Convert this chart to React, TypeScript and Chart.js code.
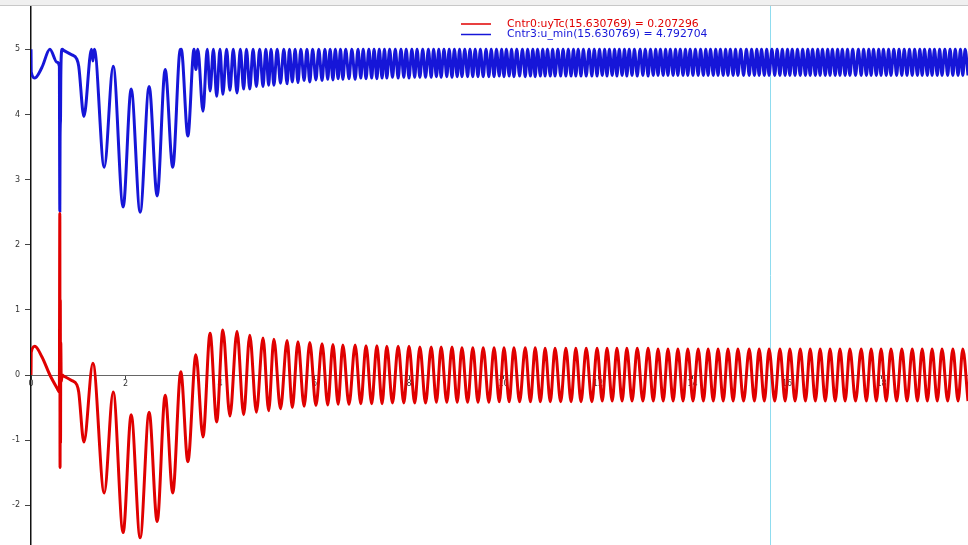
import { useEffect, useRef } from "react";
import { Chart, registerables } from "chart.js";

Chart.register(...registerables);

// ---- data ----
const redLabel = "Cntr0:uyTc(15.630769) = 0.207296";
const blueLabel = "Cntr3:u_min(15.630769) = 4.792704";
const cursorX = 15.630769;

const xTicks = [0, 2, 4, 6, 8, 10, 12, 14, 16, 18];
const yTicks = [-2, -1, 0, 1, 2, 3, 4, 5];
const xMin = 0;
const xMax = 19.83;
const yMin = -2.61;
const yMax = 5.65;

// times of the red signal's points (start-up transient, then extrema)
const redT = [
  0, 0.005, 0.08, 0.23, 0.4, 0.55, 0.6, 0.61, 0.615, 0.62, 0.625, 0.63, 0.64, 0.66, 0.7, 0.85,
  0.97, 1.01, 1.12, 1.31, 1.55, 1.74, 1.95, 2.12, 2.31, 2.5, 2.67, 2.84, 3.0, 3.17, 3.32,
  3.49, 3.64, 3.79, 3.93, 4.06, 4.21, 4.36, 4.5, 4.63, 4.77,
  4.91, 5.03, 5.14, 5.28, 5.42, 5.53, 5.65, 5.78, 5.9, 6.03,
  6.16, 6.28, 6.39, 6.5, 6.6, 6.73, 6.86, 6.98, 7.09, 7.21,
  7.32, 7.43, 7.53, 7.65, 7.77, 7.89, 8.0, 8.12, 8.23, 8.35,
  8.47, 8.58, 8.68, 8.8, 8.91, 9.02, 9.12, 9.24, 9.35, 9.46,
  9.57, 9.69, 9.8, 9.91, 10.01, 10.12, 10.22, 10.34, 10.46, 10.57,
  10.67, 10.78, 10.88, 10.99, 11.09, 11.21, 11.32, 11.43, 11.53, 11.64,
  11.75, 11.87, 11.98, 12.09, 12.19, 12.3, 12.4, 12.51, 12.61, 12.72,
  12.83, 12.95, 13.06, 13.17, 13.27, 13.38, 13.48, 13.59, 13.69, 13.8,
  13.9, 14.01, 14.12, 14.23, 14.33, 14.44, 14.54, 14.65, 14.75, 14.86,
  14.96, 15.08, 15.2, 15.31, 15.41, 15.52, 15.62, 15.74, 15.85, 15.96,
  16.06, 16.17, 16.28, 16.39, 16.49, 16.6, 16.7, 16.81, 16.91, 17.02,
  17.12, 17.23, 17.33, 17.45, 17.57, 17.68, 17.78, 17.89, 17.99, 18.1,
  18.2, 18.32, 18.43, 18.54, 18.65, 18.76, 18.86, 18.97, 19.07, 19.18,
  19.28, 19.4, 19.51, 19.62, 19.72, 19.83,
];

// red values (Cntr0:uyTc)
const redV = [
  0, 0.35, 0.44, 0.28, 0, -0.2, -0.26, 2.48, -1.42, 1.15, -1.05, 0.5, -0.1, 0, -0.02, -0.08,
  -0.15, -0.26, -1.03, 0.18, -1.81, -0.26, -2.42, -0.61, -2.5, -0.57, -2.25, -0.31, -1.81, 0.05, -1.33,
  0.31, -0.95, 0.64, -0.72, 0.69, -0.63, 0.67, -0.61, 0.61, -0.57,
  0.57, -0.55, 0.55, -0.52, 0.53, -0.5, 0.51, -0.48, 0.5, -0.47,
  0.48, -0.46, 0.47, -0.45, 0.46, -0.45, 0.46, -0.44, 0.45, -0.44,
  0.45, -0.44, 0.44, -0.43, 0.44, -0.43, 0.44, -0.43, 0.43, -0.43,
  0.43, -0.42, 0.43, -0.42, 0.43, -0.42, 0.42, -0.42, 0.42, -0.42,
  0.42, -0.42, 0.42, -0.41, 0.42, -0.41, 0.42, -0.41, 0.42, -0.41,
  0.42, -0.41, 0.41, -0.41, 0.41, -0.41, 0.41, -0.41, 0.41, -0.41,
  0.41, -0.41, 0.41, -0.4, 0.41, -0.4, 0.41, -0.4, 0.41, -0.4,
  0.41, -0.4, 0.41, -0.4, 0.4, -0.4, 0.4, -0.4, 0.4, -0.4,
  0.4, -0.4, 0.4, -0.4, 0.4, -0.4, 0.4, -0.4, 0.4, -0.4,
  0.4, -0.4, 0.4, -0.4, 0.4, -0.4, 0.4, -0.4, 0.4, -0.4,
  0.4, -0.4, 0.4, -0.4, 0.4, -0.4, 0.4, -0.4, 0.4, -0.4,
  0.4, -0.4, 0.4, -0.4, 0.4, -0.4, 0.4, -0.4, 0.4, -0.4,
  0.4, -0.4, 0.4, -0.4, 0.4, -0.4, 0.4, -0.4, 0.4, -0.4,
  0.4, -0.4, 0.4, -0.4, 0.4, -0.4,
];

// blue values (Cntr3:u_min) at the same times as redT
const blueLowV = [
  5, 4.65, 4.56, 4.72, 5, 4.8, 4.74, 2.52, 3.58, 3.85, 3.95, 4.5, 4.9, 5, 4.98, 4.92,
  4.85, 4.74, 3.97, 4.82, 3.19, 4.74, 2.58, 4.39, 2.5, 4.43, 2.75, 4.69, 3.19, 4.95, 3.67,
  4.69, 4.05, 4.36, 4.28, 4.31, 4.37, 4.33, 4.39, 4.39, 4.43,
  4.43, 4.45, 4.45, 4.48, 4.47, 4.5, 4.49, 4.52, 4.5, 4.53,
  4.52, 4.54, 4.53, 4.55, 4.54, 4.55, 4.54, 4.56, 4.55, 4.56,
  4.55, 4.56, 4.56, 4.57, 4.56, 4.57, 4.56, 4.57, 4.57, 4.57,
  4.57, 4.58, 4.57, 4.58, 4.57, 4.58, 4.58, 4.58, 4.58, 4.58,
  4.58, 4.58, 4.58, 4.59, 4.58, 4.59, 4.58, 4.59, 4.58, 4.59,
  4.58, 4.59, 4.59, 4.59, 4.59, 4.59, 4.59, 4.59, 4.59, 4.59,
  4.59, 4.59, 4.59, 4.6, 4.59, 4.6, 4.59, 4.6, 4.59, 4.6,
  4.59, 4.6, 4.59, 4.6, 4.6, 4.6, 4.6, 4.6, 4.6, 4.6,
  4.6, 4.6, 4.6, 4.6, 4.6, 4.6, 4.6, 4.6, 4.6, 4.6,
  4.6, 4.6, 4.6, 4.6, 4.6, 4.6, 4.6, 4.6, 4.6, 4.6,
  4.6, 4.6, 4.6, 4.6, 4.6, 4.6, 4.6, 4.6, 4.6, 4.6,
  4.6, 4.6, 4.6, 4.6, 4.6, 4.6, 4.6, 4.6, 4.6, 4.6,
  4.6, 4.6, 4.6, 4.6, 4.6, 4.6, 4.6, 4.6, 4.6, 4.6,
  4.6, 4.6, 4.6, 4.6, 4.6, 4.6,
];

// times where the blue signal touches its top value
const blueTopV = 5;
const blueTopT = [
  1.28, 1.34, 3.16, 3.18, 3.45,
  3.53, 3.73, 3.86, 4.0, 4.14, 4.28, 4.43, 4.56, 4.7, 4.84, 4.97, 5.08, 5.21, 5.35, 5.47,
  5.59, 5.71, 5.84, 5.96, 6.09, 6.22, 6.33, 6.44, 6.55, 6.66, 6.79, 6.92, 7.03, 7.15, 7.26,
  7.37, 7.48, 7.59, 7.71, 7.83, 7.94, 8.06, 8.17, 8.29, 8.41, 8.52, 8.63, 8.74, 8.85, 8.96,
  9.07, 9.18, 9.29, 9.4, 9.51, 9.63, 9.74, 9.85, 9.96, 10.06, 10.17, 10.28, 10.4, 10.51,
  10.62, 10.72, 10.83, 10.93, 11.04, 11.15, 11.26, 11.37, 11.48, 11.58, 11.69, 11.81, 11.92,
  12.03, 12.14, 12.24, 12.35, 12.45, 12.56, 12.66, 12.77, 12.89, 13.0, 13.11, 13.22, 13.32,
  13.43, 13.53, 13.64, 13.74, 13.85, 13.95, 14.06, 14.17, 14.28, 14.38, 14.49, 14.59, 14.7,
  14.8, 14.91, 15.02, 15.14, 15.25, 15.36, 15.46, 15.57, 15.68, 15.79, 15.9, 16.01, 16.11,
  16.22, 16.33, 16.44, 16.54, 16.65, 16.75, 16.86, 16.96, 17.07, 17.17, 17.28, 17.39, 17.51,
  17.62, 17.73, 17.83, 17.94, 18.04, 18.15, 18.26, 18.37, 18.48, 18.59, 18.7, 18.81, 18.91,
  19.02, 19.12, 19.23, 19.34, 19.45, 19.56, 19.67, 19.77,
];

const RED = "#e00000";
const BLUE = "#1616d8";
const FONT = "DejaVu Sans";

export default function App() {
  const canvasRef = useRef<HTMLCanvasElement | null>(null);

  useEffect(() => {
    document.body.style.margin = "0";
    const canvas = canvasRef.current;
    if (!canvas) return;

    const redData = redT.map((x, i) => ({ x, y: redV[i] }));
    const blueData = [
      ...redT.map((x, i) => ({ x, y: blueLowV[i] })),
      ...blueTopT.map((x) => ({ x, y: blueTopV })),
    ].sort((a, b) => a.x - b.x);

    const framePlugin = {
      id: "frame",
      beforeDraw(chart: any) {
        const ctx = chart.ctx;
        ctx.save();
        ctx.fillStyle = "#f0f0f0";
        ctx.fillRect(0, 0, chart.width, 5);
        ctx.strokeStyle = "#c8c8c8";
        ctx.lineWidth = 1;
        ctx.beginPath();
        ctx.moveTo(0, 5.5);
        ctx.lineTo(chart.width, 5.5);
        ctx.stroke();
        ctx.restore();
      },
      beforeDatasetsDraw(chart: any) {
        const ctx = chart.ctx;
        const { top, bottom } = chart.chartArea;
        const px = Math.round(chart.scales.x.getPixelForValue(cursorX)) + 0.5;
        ctx.save();
        ctx.strokeStyle = "#8fdcef";
        ctx.lineWidth = 1;
        ctx.beginPath();
        ctx.moveTo(px, top - 1);
        ctx.lineTo(px, bottom);
        ctx.stroke();
        ctx.restore();
      },
      afterDraw(chart: any) {
        const ctx = chart.ctx;
        ctx.save();
        ctx.font = `10.8px "${FONT}"`;
        ctx.textBaseline = "middle";
        chart.data.datasets.forEach((ds: any, i: number) => {
          const y = 24 + i * 10.5;
          ctx.strokeStyle = ds.borderColor;
          ctx.lineWidth = 1.5;
          ctx.beginPath();
          ctx.moveTo(461, y);
          ctx.lineTo(491, y);
          ctx.stroke();
          ctx.fillStyle = ds.borderColor;
          ctx.fillText(ds.label, 507, y);
        });
        ctx.restore();
      },
    };

    const chart = new Chart(canvas, {
      type: "line",
      data: {
        datasets: [
          {
            label: redLabel,
            data: redData,
            borderColor: RED,
            backgroundColor: RED,
            borderWidth: 3,
            pointRadius: 0,
            cubicInterpolationMode: "monotone",
          },
          {
            label: blueLabel,
            data: blueData,
            borderColor: BLUE,
            backgroundColor: BLUE,
            borderWidth: 3,
            pointRadius: 0,
            cubicInterpolationMode: "monotone",
          },
        ],
      },
      options: {
        responsive: false,
        animation: false,
        devicePixelRatio: 1,
        layout: { padding: { top: 7, right: 0, bottom: 0, left: 0 } },
        plugins: { legend: { display: false }, tooltip: { enabled: false } },
        events: [],
        scales: {
          x: {
            type: "linear",
            min: xMin,
            max: xMax,
            position: { y: 0 } as any,
            afterBuildTicks: (s: any) => {
              s.ticks = xTicks.map((v) => ({ value: v }));
            },
            afterFit: (s: any) => {
              s.height = 0;
              s.paddingLeft = 0;
              s.paddingRight = 0;
              s.paddingTop = 0;
              s.paddingBottom = 0;
            },
            ticks: {
              autoSkip: false,
              maxRotation: 0,
              padding: 1,
              color: "#333",
              font: { family: FONT, size: 8 },
            },
            grid: { drawOnChartArea: false, drawTicks: true, tickLength: 3, color: "#444" },
            border: { display: true, color: "#666", width: 1 },
          },
          y: {
            type: "linear",
            min: yMin,
            max: yMax,
            position: "left",
            afterBuildTicks: (s: any) => {
              s.ticks = yTicks.map((v) => ({ value: v }));
            },
            afterFit: (s: any) => {
              s.width = 31;
              s.paddingTop = 0;
              s.paddingBottom = 0;
            },
            ticks: {
              autoSkip: false,
              padding: 5,
              color: "#333",
              font: { family: FONT, size: 8 },
            },
            grid: { drawOnChartArea: false, drawTicks: true, tickLength: 6, color: "#444" },
            border: { display: true, color: "#111", width: 1.5 },
          },
        },
      },
      plugins: [framePlugin],
    });

    return () => chart.destroy();
  }, []);

  return (
    <div style={{ width: 968, height: 545 }}>
      <canvas ref={canvasRef} width={968} height={545} style={{ display: "block" }} />
    </div>
  );
}
